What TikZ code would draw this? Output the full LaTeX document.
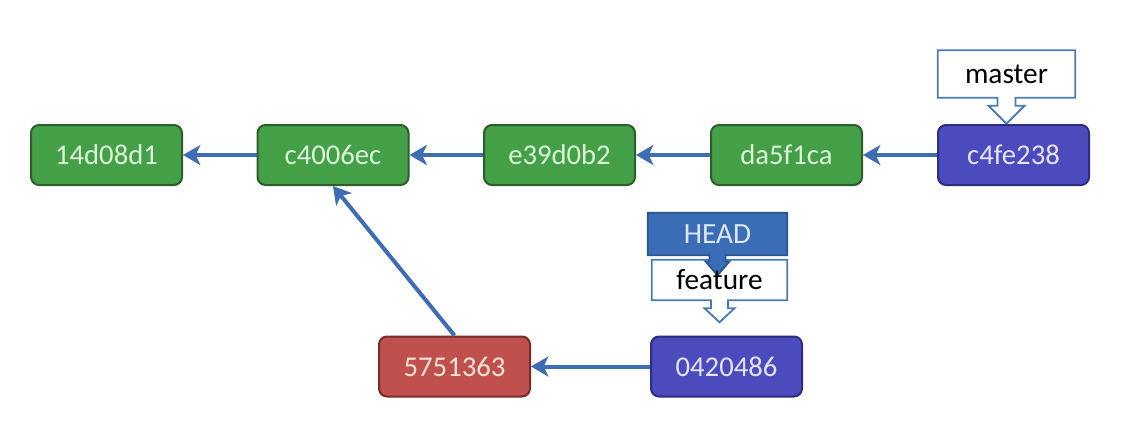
\documentclass[tikz,border=0pt]{standalone}
\usepackage{fontspec}
\setmainfont{Carlito}
\usetikzlibrary{arrows.meta,calc,backgrounds}
\definecolor{gfill}{HTML}{43A047}
\definecolor{gdraw}{HTML}{2E5E2E}
\definecolor{gtext}{HTML}{DDF3DA}
\definecolor{bfill}{HTML}{4B4BBE}
\definecolor{bdraw}{HTML}{2C2C80}
\definecolor{btext}{HTML}{E4E4FF}
\definecolor{rfill}{HTML}{C0504D}
\definecolor{rdraw}{HTML}{7A2A2A}
\definecolor{rtext}{HTML}{FBE3D6}
\definecolor{arrowc}{HTML}{3E6DB3}
\definecolor{cdraw}{HTML}{4A7BB7}
\definecolor{hfill}{HTML}{3A6DB5}
\definecolor{hdraw}{HTML}{2A5590}
\definecolor{htext}{HTML}{DCE6F4}
\newcommand\downcallout[6]{%
  \draw[#6] (#1.north west) -- (#1.north east) -- (#1.south east)
    -- ($(#1.south)+(#2,0)$) -- ($(#1.south)+(#2,#3)$) -- ($(#1.south)+(#4,#3)$)
    -- ($(#1.south)+(0,#3+#5)$) -- ($(#1.south)+(-#4,#3)$) -- ($(#1.south)+(-#2,#3)$)
    -- ($(#1.south)+(-#2,0)$) -- (#1.south west) -- cycle;}
\begin{document}
\begin{tikzpicture}[x=0.75pt,y=-0.75pt,
  commit/.style={rounded corners=6pt, line width=1.5pt, minimum width=113.25pt,
    minimum height=45pt, inner sep=0pt, font=\fontsize{21.5}{25}\selectfont},
  gc/.style={commit, fill=gfill, draw=gdraw, text=gtext},
  bc/.style={commit, fill=bfill, draw=bdraw, text=btext},
  rc/.style={commit, fill=rfill, draw=rdraw, text=rtext},
  label/.style={inner sep=0pt, font=\fontsize{22}{25}\selectfont},
  link/.style={draw=arrowc, line width=3pt,
    -{Stealth[length=13pt,width=15pt,inset=3.5pt]}},
  whitecall/.style={fill=white, draw=cdraw, line width=1.4pt, line join=miter},
  headcall/.style={fill=hfill, draw=hdraw, line width=1.4pt, line join=miter}]
\useasboundingbox (0,0) rectangle (1121,422);
% commits
\node[gc] (c1) at (106.5,155) {14d08d1};
\node[gc] (c2) at (333,155) {c4006ec};
\node[gc] (c3) at (559.5,155) {e39d0b2};
\node[gc] (c4) at (786.5,155) {da5f1ca};
\node[bc] (c5) at (1013.5,155) {c4fe238};
\node[rc] (f1) at (454.5,366.5) {5751363};
\node[bc] (f2) at (726.5,366.5) {0420486};
% arrows
\draw[link] (c5) -- (c4);
\draw[link] (c4) -- (c3);
\draw[link] (c3) -- (c2);
\draw[link] (c2) -- (c1);
\draw[link] (f2) -- (f1);
\draw[link] (f1.north) -- (c2.south);
% callouts
\node[label, minimum width=102.75pt, minimum height=35.25pt, text=black] (master) at (1006.5,74) {master};
\node[label, minimum width=101.25pt, minimum height=30pt, text=black] (feature) at (719.5,280) {feature};
\node[label, minimum width=104.25pt, minimum height=31.5pt, text=htext] (head) at (717.5,234) {HEAD};
\begin{scope}[on background layer]
\fill[white] (0,0) rectangle (1121,422);
\downcallout{master}{9}{8}{18}{18}{whitecall}
\downcallout{feature}{8.5}{8}{15}{14}{whitecall}
\downcallout{head}{8}{6}{12}{14}{headcall}
\end{scope}
\end{tikzpicture}
\end{document}
